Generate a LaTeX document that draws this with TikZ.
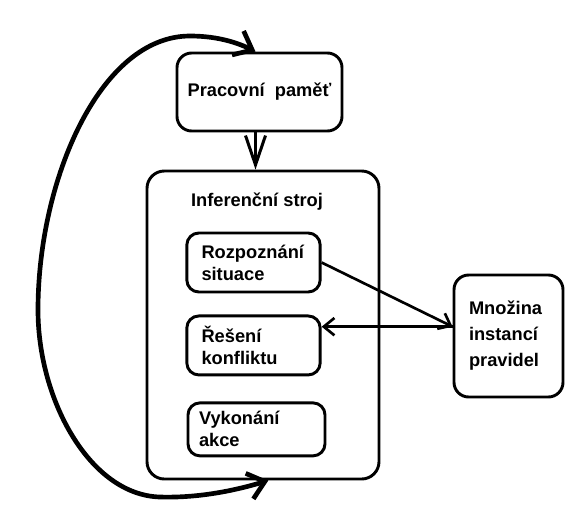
\documentclass[tikz,border=0pt]{standalone}
\usepackage{fontspec}
\setmainfont{Liberation Sans}
\usetikzlibrary{arrows.meta,positioning}

\begin{document}
\begin{tikzpicture}[
        x=0.75pt, y=-0.75pt,
        txt/.style={font=\bfseries\fontsize{13.7}{16.5}\selectfont},
        box/.style={rectangle, draw, line width=2.2pt, rounded corners=9pt, txt},
        inbox/.style={box, align=left, inner xsep=11pt, text width=78pt, minimum height=44.25pt},
        arrow/.style={-{Straight Barb[length=8pt,width=13pt]}, line width=2pt},
        bigarrow/.style={{Straight Barb[length=12pt,width=20pt]}-{Straight Barb[length=12pt,width=20pt]}, line width=3.5pt}
    ]
        \useasboundingbox (0,0) rectangle (584,522);

        \node[box, rounded corners=11pt, minimum width=123.75pt, minimum height=58.5pt] (pamet) at (259.5,92) {Pracovní\ \ paměť};
        \node[box, rounded corners=13pt, minimum width=174pt, minimum height=231pt] (stroj) at (263,325) {};
        \node[txt] (strojtitle) at (257,202) {Inferenční stroj};

        % kroky cyklu
        \node[inbox] (rozpoz) at (253.5,262.5) {Rozpoznání\\situace};
        \node[inbox, below=15.75pt of rozpoz] (reseni) {Řešení\\konfliktu};
        \node[inbox, below=18.75pt of reseni, xshift=2.25pt, inner xsep=8.25pt, text width=86.25pt, minimum height=39.75pt] (vykon) {Vykonání\\akce};

        \node[box, rounded corners=11pt, align=left, inner xsep=11.25pt, text width=59.25pt, minimum height=91.5pt,
            font=\bfseries\fontsize{13.7}{19.5}\selectfont] (mnozina) at (508.5,336) {Množina\\instancí\\pravidel};

        % pamet -> stroj
        \coordinate (pamout) at ([xshift=-3pt]pamet.south);
        \draw[line width=2.25pt, -{Straight Barb[length=22pt,width=15pt]}] (pamout) -- (pamout |- stroj.north);

        % rozpoznani -> mnozina, mnozina -> reseni
        \coordinate (hit) at ([yshift=7pt]mnozina.west);
        \draw[arrow] (rozpoz.east) -- (hit);
        \draw[arrow] (hit) -- (hit -| reseni.east);

        % zpetna vazba
        \draw[bigarrow] ([xshift=4pt]stroj.south) .. controls (230,492) and (195,498) .. (160,497)
            .. controls (90,495) and (38,400) .. (38,310)
            .. controls (38,180) and (100,36) .. (190,36)
            .. controls (220,36) and (240,44) .. ([xshift=-3pt]pamet.north);

    \end{tikzpicture}
\end{document}
